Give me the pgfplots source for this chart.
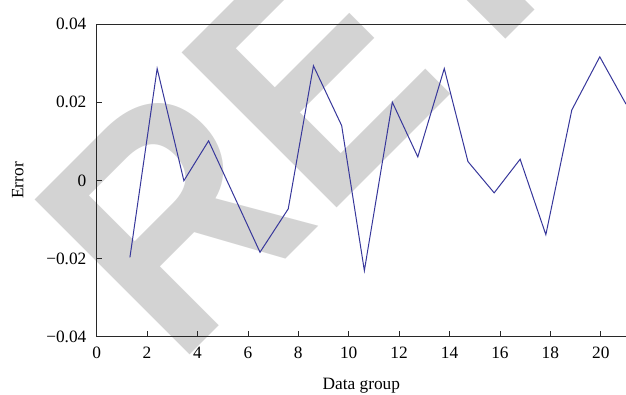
\documentclass[border=0pt]{standalone}
\usepackage{pgfplots}
\pgfplotsset{compat=1.18}
\usepackage{fontspec}
\setmainfont{Liberation Serif}
\newfontfamily\wmfont{Liberation Sans}
\definecolor{lineblue}{RGB}{55,55,155}
\definecolor{spine}{RGB}{40,40,40}
\definecolor{wm}{RGB}{211,211,211}
\begin{document}
\begin{tikzpicture}
\node[anchor=base west, inner sep=0pt, outer sep=0pt, rotate=45, xscale=0.9, text=wm,
      font=\wmfont\bfseries\fontsize{239}{239}\selectfont] at (60pt,-23.7pt) {RETRACTED};
\begin{axis}[
  at={(0,0)}, anchor=south west,
  scale only axis,
  width=397pt, height=234.5pt,
  xmin=0, xmax=21, ymin=-0.04, ymax=0.04,
  xtick={0,2,...,20},
  xticklabels={0,2,4,6,8,10,12,14,16,18,20},
  ytick={-0.04,-0.02,0,0.02,0.04},
  yticklabels={−0.04,−0.02,0,0.02,0.04},
  scaled y ticks=false,
  tick pos=left, tick align=inside,
  major tick length=4pt,
  axis line style={line width=0.7pt, draw=spine},
  tick style={line width=0.6pt, draw=spine},
  font=\fontsize{13}{15}\selectfont,
  xticklabel style={anchor=north, inner sep=0pt, yshift=-7.5pt},
  yticklabel style={anchor=east, inner sep=0pt, xshift=-7.5pt},
  every axis x label/.style={at={(axis description cs:0.5,0)}, yshift=-40pt, anchor=base},
  every axis y label/.style={at={(axis description cs:0,0.5)}, xshift=-55pt, rotate=90, anchor=base},
  xlabel={Data group}, ylabel={Error},
]
\addplot[lineblue, line width=0.75pt, mark=none] coordinates {
 (1.32,-0.0197) (2.40,0.0286) (3.46,-0.0001) (4.44,0.0101) (5.50,-0.0047)
 (6.48,-0.0184) (7.60,-0.0073) (8.60,0.0293) (9.72,0.0140) (10.62,-0.0231)
 (11.73,0.0200) (12.74,0.0060) (13.79,0.0286) (14.73,0.0048) (15.77,-0.0032)
 (16.80,0.0054) (17.82,-0.0139) (18.85,0.0180) (19.96,0.0316) (21.00,0.0195)
};
\end{axis}
\pgfresetboundingbox
\path[use as bounding box] (-72.5pt,-43.7pt) rectangle (397pt,252.5pt);
\end{tikzpicture}
\end{document}
